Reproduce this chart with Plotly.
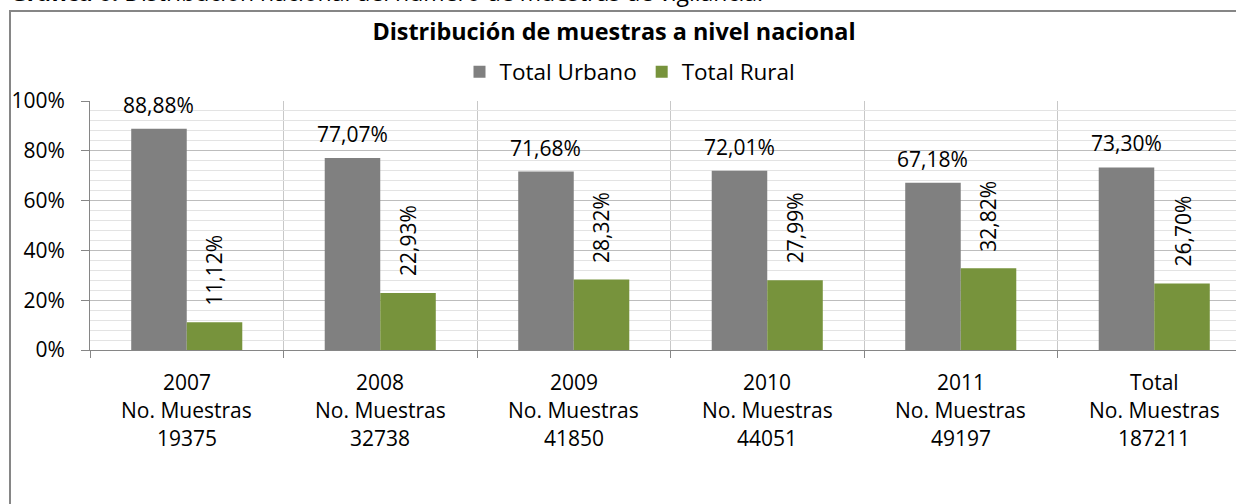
import plotly.graph_objects as go

years = ["2007", "2008", "2009", "2010", "2011", "Total"]
samples = ["19375", "32738", "41850", "44051", "49197", "187211"]
urbano = [88.88, 77.07, 71.68, 72.01, 67.18, 73.30]
rural = [11.12, 22.93, 28.32, 27.99, 32.82, 26.70]

W, H = 1236, 504
ML, MR, MT, MB = 90, 0, 101, 154
CAT_PX = 193.5
BARGAP = 0.426
FONT = "Open Sans"
GRAY = "#808080"
GREEN = "#77933C"
LBL = 21

xs = list(range(len(years)))
plot_w = W - ML - MR
plot_h = H - MT - MB

def px_x(p):
    return (p - ML) / plot_w

def px_y(p):
    return (MT + plot_h - p) / plot_h

fig = go.Figure()
fig.add_trace(go.Bar(x=xs, y=[v / 100 for v in urbano], name="Total Urbano",
                     marker=dict(color=GRAY, line=dict(width=0))))
fig.add_trace(go.Bar(x=xs, y=[v / 100 for v in rural], name="Total Rural",
                     marker=dict(color=GREEN, line=dict(width=0))))

def fmt(v):
    return f"{v:.2f}".replace(".", ",") + "%"

off = (1 - BARGAP) / 4
ann = []
for i in xs:
    ann.append(dict(x=i - off, y=urbano[i] / 100, xref="x", yref="y", text=fmt(urbano[i]),
                    showarrow=False, yanchor="middle", yshift=24,
                    font=dict(family=FONT, size=LBL, color="black")))
    ann.append(dict(x=i + off, y=rural[i] / 100, xref="x", yref="y", text=fmt(rural[i]),
                    showarrow=False, yanchor="middle", yshift=52, textangle=-90,
                    font=dict(family=FONT, size=LBL, color="black")))
    for k, line in enumerate([years[i], "No. Muestras", samples[i]]):
        ann.append(dict(x=i, y=0, xref="x", yref="paper", text=line, showarrow=False,
                        yanchor="middle", yshift=-32 - 28 * k,
                        font=dict(family=FONT, size=LBL, color="black")))

# caption partially cut at top
ann.append(dict(x=px_x(8), y=px_y(-8), xref="paper", yref="paper", xanchor="left",
                yanchor="middle", showarrow=False,
                text="<b>Gráfica 6.</b> Distribución nacional del número de muestras de vigilancia.",
                font=dict(family=FONT, size=23, color="black")))

fig.update_layout(
    template="none",
    width=W, height=H,
    margin=dict(l=ML, r=MR, t=MT, b=MB, pad=0, autoexpand=False),
    paper_bgcolor="white", plot_bgcolor="white",
    barmode="group", bargap=BARGAP, bargroupgap=0,
    title=dict(text="<b>Distribución de muestras a nivel nacional</b>",
               x=614 / W, xanchor="center", y=1 - 32 / H, yanchor="middle",
               xref="container", yref="container",
               font=dict(family=FONT, size=23.4, color="black")),
    legend=dict(orientation="h", x=630 / W, xanchor="center", y=1 - 72 / H, yanchor="middle",
                xref="container", yref="container",
                font=dict(family=FONT, size=22.5, color="black"),
                bgcolor="rgba(0,0,0,0)", itemsizing="constant"),
    font=dict(family=FONT, color="black"),
    annotations=ann,
    shapes=[dict(type="rect", xref="paper", yref="paper",
                 x0=px_x(10), x1=px_x(W + 10),
                 y0=px_y(H + 10), y1=px_y(11),
                 line=dict(color="#868686", width=2), fillcolor="rgba(0,0,0,0)",
                 layer="below")],
)

fig.update_xaxes(
    automargin=False,
    range=[-0.5, -0.5 + plot_w / CAT_PX],
    tickvals=xs, showticklabels=False, ticks="", showgrid=False,
    showline=True, linecolor="#868686", linewidth=1, zeroline=False,
    minor=dict(tickvals=[i - 0.5 for i in range(len(years) + 1)], showgrid=True,
               gridcolor="#c8c8c8", gridwidth=1, ticks="outside", ticklen=7,
               tickcolor="#868686"),
)
fig.update_yaxes(
    automargin=False,
    range=[0, 1], tickvals=[0, 0.2, 0.4, 0.6, 0.8, 1.0],
    ticktext=["0%", "20%", "40%", "60%", "80%", "100%"],
    ticks="outside", ticklen=8, tickcolor="#868686",
    showline=True, linecolor="#868686", linewidth=1,
    showgrid=True, gridcolor="#bdbdbd", gridwidth=1, zeroline=False,
    ticklabelstandoff=12,
    tickfont=dict(family=FONT, size=LBL, color="black"),
    minor=dict(dtick=0.04, tick0=0, showgrid=True, gridcolor="#e3e3e3", gridwidth=1),
)

fig.write_html("out.html", config={"displayModeBar": False},
               post_script="document.body.style.margin='0px';"
                           "document.body.style.overflow='hidden';"
                           "document.documentElement.style.overflow='hidden';")
